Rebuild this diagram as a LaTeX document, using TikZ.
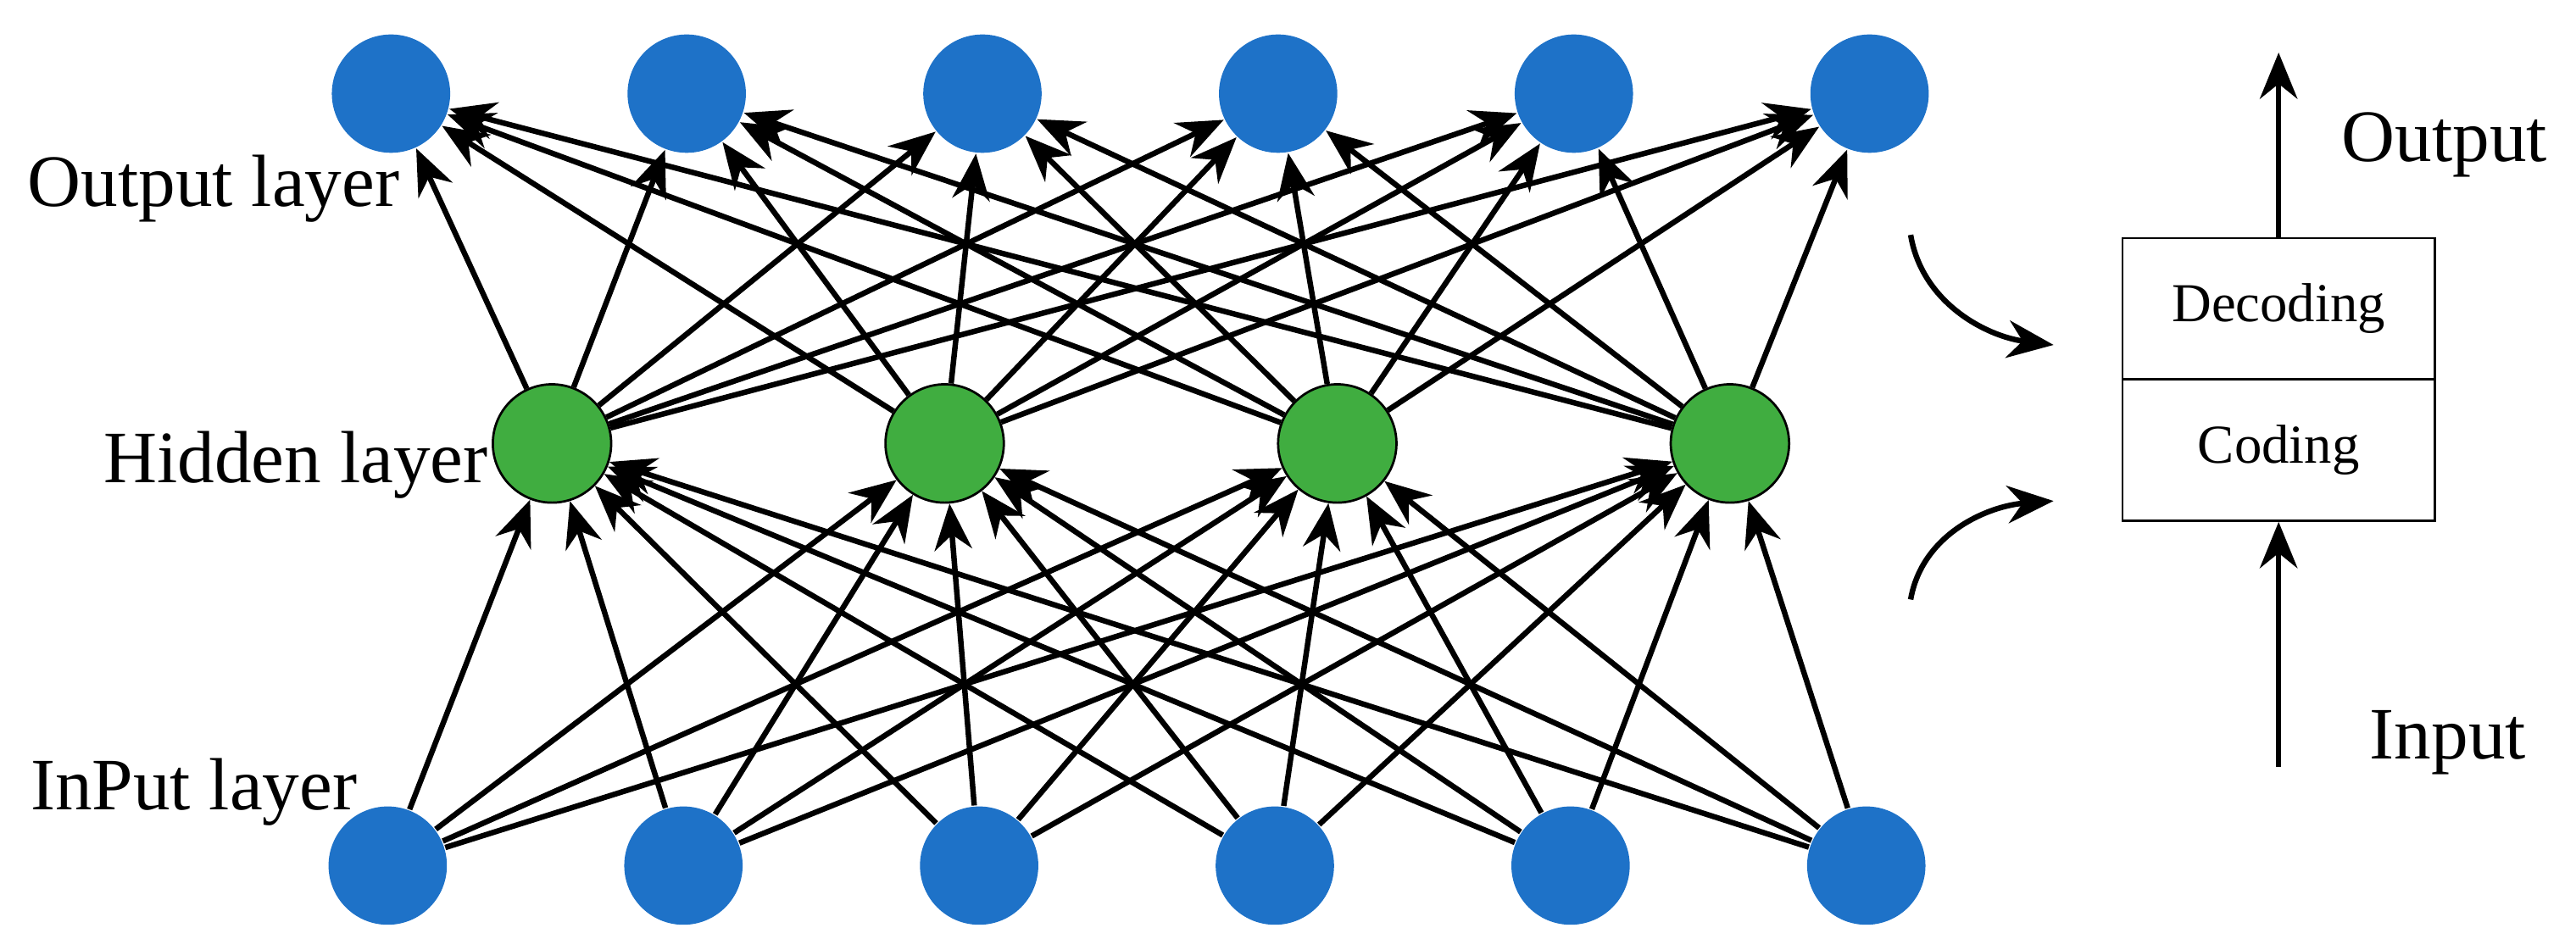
\documentclass[tikz,border=0pt]{standalone}
\usepackage{fontspec}
\setmainfont{Liberation Serif}
\usetikzlibrary{arrows.meta}
\begin{document}
\begin{tikzpicture}[x=0.01cm,y=-0.01cm,
  blue node/.style={circle,fill={rgb,255:red,30;green,114;blue,200},minimum size=0.72cm,inner sep=0pt},
  green node/.style={circle,fill={rgb,255:red,64;green,173;blue,64},draw=black,line width=0.4pt,minimum size=0.72cm,inner sep=0pt},
  conn/.style={-{Stealth[length=8pt,width=6.5pt]},line width=0.95pt},
  lbl/.style={font=\fontsize{12.8}{14}\selectfont},
  blbl/.style={font=\fontsize{9.5}{11}\selectfont}]
\useasboundingbox (0,0) rectangle (1568,578);
\foreach \i/\x in {1/238,2/418,3/598,4/778,5/958,6/1138}{
  \node[blue node] (o\i) at (\x,57) {};
  \node[blue node] (i\i) at (\x-2,527) {};
}
\foreach \j/\x in {1/336,2/575,3/814,4/1053}{
  \node[green node] (h\j) at (\x,270) {};
}
\foreach \i in {1,...,6}{\foreach \j in {1,...,4}{
  \draw[conn] (i\i) -- (h\j);
  \draw[conn] (h\j) -- (o\i);
}}
\node[lbl] (tout) at (130,115) {Output layer};
\node[lbl] (thid) at (180,283) {Hidden layer};
\node[lbl] (tin) at (118,482) {InPut layer};
\node[draw,line width=0.4pt,minimum width=1.9cm,minimum height=0.86cm,blbl] (dec) at (1387,188) {Decoding};
\node[draw,line width=0.4pt,minimum width=1.9cm,minimum height=0.86cm,blbl] (cod) at (1387,274) {Coding};
\coordinate (otop) at (1387,32);
\coordinate (ibot) at (1387,467);
\draw[conn] (dec.north) -- (otop);
\draw[conn] (ibot) -- (cod.south);
\node[lbl] (toutput) at (1488,88) {Output};
\node[lbl] (tinput) at (1490,452) {Input};
\coordinate (c1a) at (1163,143); \coordinate (c1b) at (1250,210);
\coordinate (c2a) at (1163,365); \coordinate (c2b) at (1250,305);
\draw[conn] (c1a) .. controls (1170,185) and (1210,205) .. (c1b);
\draw[conn] (c2a) .. controls (1170,325) and (1210,308) .. (c2b);
\end{tikzpicture}
\end{document}
